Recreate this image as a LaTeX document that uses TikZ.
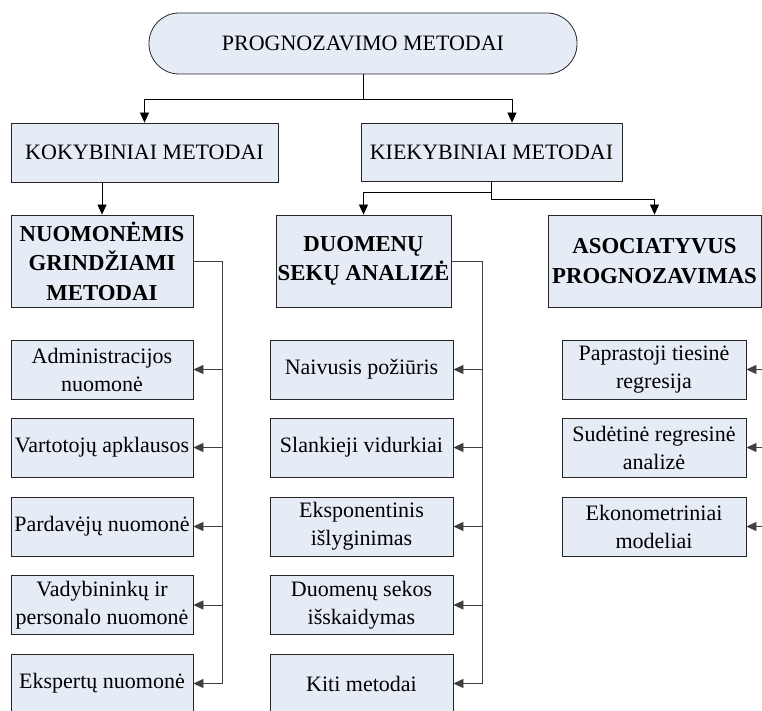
\documentclass[tikz,border=0pt]{standalone}
\usepackage{fontspec}
\setmainfont{Liberation Serif}
\usepackage{xcolor}
\usepackage{tikz}
\usetikzlibrary{arrows.meta}
\definecolor{langelis}{RGB}{230,236,246}

\begin{document}
\begin{tikzpicture}[x=1pt, y=-1pt,
                metodas/.style={rectangle, draw=black!85, fill=langelis, line width=0.8pt, inner sep=1pt, align=center, font=\fontsize{22}{28}\selectfont, minimum height=59pt},
                grupe/.style={metodas, font=\bfseries\fontsize{22.8}{29.5}\selectfont, minimum height=92pt},
                rodykle/.style={-{Triangle[length=10pt,width=9pt]}, line width=0.8pt},
                jungtis/.style={line width=0.8pt, draw=black!75}
            ]
                \useasboundingbox (0,0) rectangle (762,711);

                % Pagrindinis langelis ir du metodu tipai
                \node[metodas, rounded corners=30pt, minimum width=428pt, minimum height=61pt] (PM) at (363,43.5) {PROGNOZAVIMO METODAI};
                \node[metodas, minimum width=267pt] (KOK) at (144.5,152.5) {KOKYBINIAI METODAI};
                \node[metodas, minimum width=261pt, minimum height=58pt] (KIE) at (491.5,152) {KIEKYBINIAI METODAI};

                % Metodu grupes
                \node[grupe, minimum width=182pt] (NUO) at (102,261) {NUOMONĖMIS\\GRINDŽIAMI\\METODAI};
                \node[grupe, minimum width=175pt] (DSA) at (363.5,261) {DUOMENŲ\\SEKŲ ANALIZĖ};
                \node[grupe, minimum width=213pt] (ASP) at (654.5,261) {ASOCIATYVUS\\PROGNOZAVIMAS};

                % Nuomonemis grindziami metodai
                \node[metodas, minimum width=182pt] (N1) at (102,369.5) {Administracijos\\nuomonė};
                \node[metodas, minimum width=182pt] (N2) at (102,447.5) {Vartotojų apklausos};
                \node[metodas, minimum width=182pt] (N3) at (102,526.5) {Pardavėjų nuomonė};
                \node[metodas, minimum width=182pt] (N4) at (102,605) {Vadybininkų ir\\personalo nuomonė};
                \node[metodas, minimum width=182pt] (N5) at (102,683.5) {Ekspertų nuomonė};

                % Duomenu seku analize
                \node[metodas, minimum width=183pt] (D1) at (361.5,369.5) {Naivusis požiūris};
                \node[metodas, minimum width=183pt] (D2) at (361.5,447.5) {Slankieji vidurkiai};
                \node[metodas, minimum width=183pt] (D3) at (361.5,526.5) {Eksponentinis\\išlyginimas};
                \node[metodas, minimum width=183pt] (D4) at (361.5,605) {Duomenų sekos\\išskaidymas};
                \node[metodas, minimum width=183pt] (D5) at (361.5,683.5) {Kiti metodai};

                % Asociatyvus prognozavimas
                \node[metodas, minimum width=184pt] (A1) at (654,369.5) {Paprastoji tiesinė\\regresija};
                \node[metodas, minimum width=184pt] (A2) at (654,447.5) {Sudėtinė regresinė\\analizė};
                \node[metodas, minimum width=184pt] (A3) at (654,526.5) {Ekonometriniai\\modeliai};

                % Rodykles tarp lygiu
                \coordinate (J0) at (363,99);
                \draw[rodykle] (PM.south) -- (J0) -| (KOK.north);
                \draw[rodykle] (J0) -| ([xshift=20.5pt]KIE.north);
                \draw[rodykle] (KOK.south -| NUO.north) -- (NUO.north);
                \draw[rodykle] (KIE.south) -- ++(0,11) -| (DSA.north);
                \draw[rodykle] (KIE.south) -- ++(0,18) -| (ASP.north);

                % Sonines jungtys
                \coordinate (NB) at (222,261);
                \coordinate (DB) at (482,261);
                \coordinate (AB) at (776,261);
                \draw[jungtis] (NUO.east) -- (NB) -- (NB |- N5.east);
                \draw[jungtis] (DSA.east) -- (DB) -- (DB |- D5.east);
                \draw[jungtis] (ASP.east) -- (AB) -- (AB |- A3.east);

                \draw[jungtis, rodykle] (NB |- N1.east) -- (N1.east);
                \draw[jungtis, rodykle] (NB |- N2.east) -- (N2.east);
                \draw[jungtis, rodykle] (NB |- N3.east) -- (N3.east);
                \draw[jungtis, rodykle] (NB |- N4.east) -- (N4.east);
                \draw[jungtis, rodykle] (NB |- N5.east) -- (N5.east);

                \draw[jungtis, rodykle] (DB |- D1.east) -- (D1.east);
                \draw[jungtis, rodykle] (DB |- D2.east) -- (D2.east);
                \draw[jungtis, rodykle] (DB |- D3.east) -- (D3.east);
                \draw[jungtis, rodykle] (DB |- D4.east) -- (D4.east);
                \draw[jungtis, rodykle] (DB |- D5.east) -- (D5.east);

                \draw[jungtis, rodykle] (AB |- A1.east) -- (A1.east);
                \draw[jungtis, rodykle] (AB |- A2.east) -- (A2.east);
                \draw[jungtis, rodykle] (AB |- A3.east) -- (A3.east);
            \end{tikzpicture}
\end{document}
